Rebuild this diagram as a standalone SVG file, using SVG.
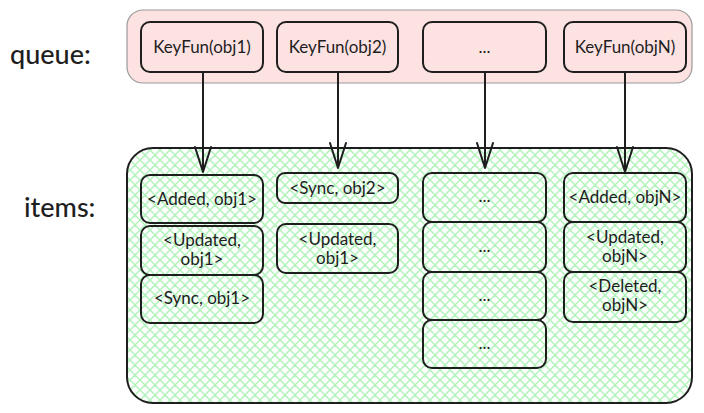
<svg xmlns="http://www.w3.org/2000/svg" width="704" height="413" viewBox="0 0 704 413">
  <defs>
    <pattern id="hatch" width="10" height="10" patternUnits="userSpaceOnUse">
      <path d="M0 0 L10 10 M10 0 L0 10 M-5 5 L5 15 M5 -5 L15 5 M5 15 L15 5 M-5 5 L5 -5" stroke="#b2f2bb" stroke-width="1.5" fill="none"/>
    </pattern>
    <marker id="arrow" markerUnits="userSpaceOnUse" markerWidth="30" markerHeight="24" refX="27" refY="10" orient="auto" overflow="visible">
      <path d="M2 2 L27 10 L2 18" fill="none" stroke="#1e1e1e" stroke-width="2" stroke-linecap="round" stroke-linejoin="round"/>
    </marker>
  </defs>
  <style>
    .lbl { font-family: Lato, "Liberation Sans", sans-serif; font-size: 27px; fill: #1e1e1e; font-weight: 500; }
    .t { font-family: Lato, "Liberation Sans", sans-serif; font-size: 17px; fill: #1e1e1e; text-anchor: middle; }
    .box { fill: none; stroke: #1e1e1e; stroke-width: 2; }
    .conn { stroke: #1e1e1e; stroke-width: 2; fill: none; }
  </style>

  <rect width="704" height="413" fill="#ffffff"/>

  <!-- side labels -->
  <text class="lbl" x="10" y="64">queue:</text>
  <text class="lbl" x="24" y="217">items:</text>

  <!-- queue container -->
  <g id="queue">
    <rect x="127" y="10" width="565" height="73" rx="16" fill="#fde2e2" stroke="#9a9a9a" stroke-width="1.2"/>
  </g>

  <!-- items container -->
  <g id="items">
    <rect x="127" y="148" width="565" height="255" rx="26" fill="#ffffff"/>
    <rect x="127" y="148" width="565" height="255" rx="26" fill="url(#hatch)" stroke="#1e1e1e" stroke-width="2"/>
  </g>

  <!-- queue keys -->
  <g id="key-obj1">
    <rect class="box" x="141" y="22" width="122" height="50" rx="9"/>
    <text class="t" x="202" y="53">KeyFun(obj1)</text>
  </g>
  <g id="key-obj2">
    <rect class="box" x="277" y="22" width="121" height="50" rx="9"/>
    <text class="t" x="337.5" y="53">KeyFun(obj2)</text>
  </g>
  <g id="key-more">
    <rect class="box" x="423" y="22" width="123" height="50" rx="9"/>
    <text class="t" x="484.5" y="53">...</text>
  </g>
  <g id="key-objN">
    <rect class="box" x="564" y="22" width="122" height="50" rx="9"/>
    <text class="t" x="625" y="53">KeyFun(objN)</text>
  </g>

  <!-- column obj1 -->
  <g id="obj1-added">
    <rect class="box" x="141" y="175" width="122" height="48" rx="9"/>
    <text class="t" x="202" y="205">&lt;Added, obj1&gt;</text>
  </g>
  <g id="obj1-updated">
    <rect class="box" x="141" y="226" width="122" height="49" rx="9"/>
    <text class="t" x="202" y="246">&lt;Updated,</text>
    <text class="t" x="202" y="265">obj1&gt;</text>
  </g>
  <g id="obj1-sync">
    <rect class="box" x="141" y="275" width="122" height="48" rx="9"/>
    <text class="t" x="202" y="304">&lt;Sync, obj1&gt;</text>
  </g>

  <!-- column obj2 -->
  <g id="obj2-sync">
    <rect class="box" x="277" y="173" width="121" height="30" rx="8"/>
    <text class="t" x="337.5" y="194">&lt;Sync, obj2&gt;</text>
  </g>
  <g id="obj2-updated">
    <rect class="box" x="277" y="224" width="121" height="49" rx="9"/>
    <text class="t" x="337.5" y="245">&lt;Updated,</text>
    <text class="t" x="337.5" y="264">obj1&gt;</text>
  </g>

  <!-- column ... -->
  <g id="more-1">
    <rect class="box" x="423" y="173" width="123" height="49" rx="9"/>
    <text class="t" x="484.5" y="202">...</text>
  </g>
  <g id="more-2">
    <rect class="box" x="423" y="222" width="123" height="50" rx="9"/>
    <text class="t" x="484.5" y="252">...</text>
  </g>
  <g id="more-3">
    <rect class="box" x="423" y="272" width="123" height="48" rx="9"/>
    <text class="t" x="484.5" y="301">...</text>
  </g>
  <g id="more-4">
    <rect class="box" x="423" y="320" width="123" height="48" rx="9"/>
    <text class="t" x="484.5" y="349">...</text>
  </g>

  <!-- column objN -->
  <g id="objN-added">
    <rect class="box" x="564" y="173" width="122" height="49" rx="9"/>
    <text class="t" x="625" y="203">&lt;Added, objN&gt;</text>
  </g>
  <g id="objN-updated">
    <rect class="box" x="564" y="222" width="122" height="50" rx="9"/>
    <text class="t" x="625" y="243">&lt;Updated,</text>
    <text class="t" x="625" y="262">objN&gt;</text>
  </g>
  <g id="objN-deleted">
    <rect class="box" x="564" y="272" width="122" height="50" rx="9"/>
    <text class="t" x="625" y="292">&lt;Deleted,</text>
    <text class="t" x="625" y="311">objN&gt;</text>
  </g>

  <!-- connectors -->
  <g id="connectors">
    <line class="conn" x1="203" y1="72" x2="203" y2="172" marker-end="url(#arrow)"/>
    <line class="conn" x1="338" y1="72" x2="338" y2="168" marker-end="url(#arrow)"/>
    <line class="conn" x1="485" y1="72" x2="485" y2="168" marker-end="url(#arrow)"/>
    <line class="conn" x1="625" y1="72" x2="625" y2="172" marker-end="url(#arrow)"/>
  </g>
</svg>
